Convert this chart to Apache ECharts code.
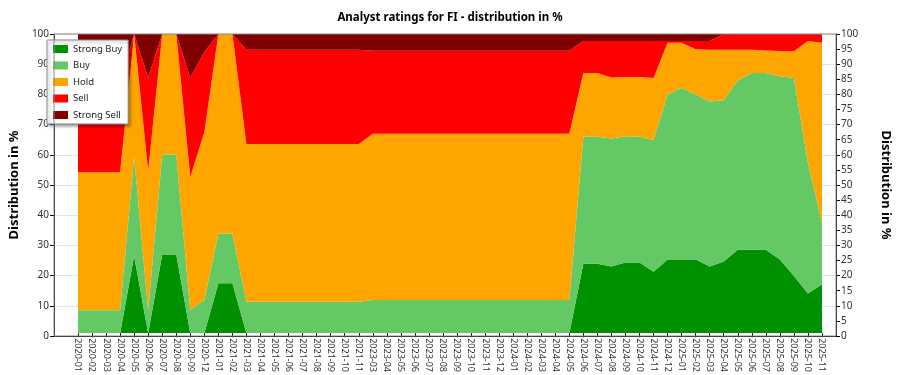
<!DOCTYPE html>
<html>
<head>
<meta charset="utf-8">
<script src="https://cdn.jsdelivr.net/npm/echarts@6/dist/echarts.min.js"></script>
<style>
html,body{margin:0;padding:0;background:#fff;}
#main{width:900px;height:375px;}
</style>
</head>
<body>
<div id="main"></div>
<script>
const categories = ['2020-01','2020-02','2020-03','2020-04','2020-05','2020-06','2020-07','2020-08','2020-09','2020-12',
'2021-01','2021-02','2021-03','2021-04','2021-05','2021-06','2021-07','2021-08','2021-09','2021-10','2021-11',
'2023-03','2023-04','2023-05','2023-06','2023-07','2023-08','2023-09','2023-10','2023-11','2023-12',
'2024-01','2024-02','2024-03','2024-04','2024-05','2024-06','2024-07','2024-08','2024-09','2024-10','2024-11','2024-12',
'2025-01','2025-02','2025-03','2025-04','2025-05','2025-06','2025-07','2025-08','2025-09','2025-10','2025-11'];

const strongBuy = [0,0,0,0,25.8,0,26.3,26.3,0,0,
16.7,16.7,0,0,0,0,0,0,0,0,0,
0,0,0,0,0,0,0,0,0,0,
0,0,0,0,0,23.2,23.2,22.3,23.6,23.6,20.5,24.6,
24.6,24.6,22.3,24,27.9,27.9,27.9,24.6,19.1,13.3,16.3];

const buy = [7.7,7.7,7.7,7.7,33.2,7.7,33.4,33.4,7.7,11.1,
16.6,16.6,10.5,10.5,10.5,10.5,10.5,10.5,10.5,10.5,10.5,
11.1,11.1,11.1,11.1,11.1,11.1,11.1,11.1,11.1,11.1,
11.1,11.1,11.1,11.1,11.1,42.5,42.5,42.8,42.2,42.1,44.1,55.2,
57.4,55.2,55.1,53.9,56.6,59.1,59.1,61.3,66.2,43.7,20.5];

const hold = [46.1,46.1,46.1,46.1,41,46.6,40.3,40.3,44.6,56.1,
66.7,66.7,52.7,52.7,52.7,52.7,52.7,52.7,52.7,52.7,52.7,
55.6,55.6,55.6,55.6,55.6,55.6,55.6,55.6,55.6,55.6,
55.6,55.6,55.6,55.6,55.6,21.3,21.3,20.4,19.8,19.9,20.7,17.3,
15.1,15.1,17.3,16.8,10.2,7.7,7.5,8.4,8.9,40.7,60.3];

const sell = [30.8,30.8,30.8,30.8,0,31.1,0,0,33.1,26.8,
0,0,31.5,31.5,31.5,31.5,31.5,31.5,31.5,31.5,31.5,
27.7,27.7,27.7,27.7,27.7,27.7,27.7,27.7,27.7,27.7,
27.7,27.7,27.7,27.7,27.7,10.7,10.7,12.2,12.1,12.1,12.4,0.6,
0.6,2.8,3.0,5.3,5.3,5.3,5.5,5.7,5.8,2.3,2.9];

const strongSell = [15.4,15.4,15.4,15.4,0,14.6,0,0,14.6,6,
0,0,5.3,5.3,5.3,5.3,5.3,5.3,5.3,5.3,5.3,
5.6,5.6,5.6,5.6,5.6,5.6,5.6,5.6,5.6,5.6,
5.6,5.6,5.6,5.6,5.6,2.3,2.3,2.3,2.3,2.3,2.3,2.3,
2.3,2.3,2.3,0,0,0,0,0,0,0,0];

const seriesNames = ['Strong Buy','Buy','Hold','Sell','Strong Sell'];
const seriesColors = ['#009100','#64c864','#ffa500','#ff0000','#800000'];
const seriesData = [strongBuy, buy, hold, sell, strongSell];

const FONT = 'Noto Sans, Open Sans, sans-serif';
const chart = echarts.init(document.getElementById('main'));

const option = {
  animation: false,
  textStyle: {fontFamily: FONT},
  title: {
    text: 'Analyst ratings for FI - distribution in %',
    left: 'center', top: 7,
    textStyle: {fontSize: 11.5, fontWeight: 'bold', color: '#000', fontFamily: FONT}
  },
  legend: {
    orient: 'vertical', left: 47, top: 40,
    backgroundColor: '#fff', borderColor: '#888', borderWidth: 1,
    padding: [3, 6, 3, 6], itemGap: 4.5,
    itemWidth: 15, itemHeight: 8, icon: 'rect',
    shadowBlur: 3, shadowColor: 'rgba(0,0,0,0.35)', shadowOffsetX: 2, shadowOffsetY: 2,
    textStyle: {fontSize: 9.5, color: '#222', fontFamily: FONT, lineHeight: 12},
    data: seriesNames
  },
  grid: [
    {left: 40, right: 62, top: 34, bottom: 39, show: true, borderColor: '#888', borderWidth: 1, backgroundColor: 'transparent', z: 5},
    {left: 78, right: 78, top: 34, bottom: 39}
  ],
  xAxis: [
    {gridIndex: 0, type: 'value', min: 0, max: 1, axisLabel: {show: false}, axisTick: {show: false},
     splitLine: {show: false}, axisLine: {show: true, lineStyle: {color: '#000'}}},
    {gridIndex: 1, type: 'category', boundaryGap: false, data: categories,
     axisLine: {show: false},
     axisTick: {show: true, length: 4, interval: 0, lineStyle: {color: '#000'}},
     axisLabel: {rotate: -90, fontSize: 9, color: '#333', interval: 0, margin: 5, fontFamily: FONT}}
  ],
  yAxis: [
    {gridIndex: 0, type: 'value', position: 'left', min: 0, max: 100, interval: 10,
     name: 'Distribution in %', nameLocation: 'middle', nameGap: 27,
     nameTextStyle: {fontSize: 13, fontWeight: 'bold', color: '#000', fontFamily: FONT},
     axisLine: {show: true, lineStyle: {color: '#000'}},
     axisTick: {show: true, length: 4, lineStyle: {color: '#000'}},
     axisLabel: {fontSize: 10, color: '#333', margin: 5, fontFamily: FONT},
     splitLine: {show: true, lineStyle: {color: '#e4e4e4'}}},
    {gridIndex: 0, type: 'value', position: 'right', min: 0, max: 100, interval: 5,
     name: 'Distribution in %', nameLocation: 'middle', nameGap: 43, nameRotate: -90,
     nameTextStyle: {fontSize: 13, fontWeight: 'bold', color: '#000', fontFamily: FONT},
     axisLine: {show: true, lineStyle: {color: '#000'}},
     axisTick: {show: true, length: 4, lineStyle: {color: '#000'}},
     axisLabel: {fontSize: 10, color: '#333', margin: 5, fontFamily: FONT},
     splitLine: {show: false}},
    {gridIndex: 1, type: 'value', min: 0, max: 100, show: false}
  ],
  series: seriesNames.map((n, i) => ({
    name: n, type: 'line', stack: 'total', xAxisIndex: 1, yAxisIndex: 2,
    data: seriesData[i], showSymbol: false, symbol: 'none',
    color: seriesColors[i],
    lineStyle: {width: 0},
    areaStyle: {color: seriesColors[i], opacity: 1}
  }))
};
chart.setOption(option);
</script>
</body>
</html>
